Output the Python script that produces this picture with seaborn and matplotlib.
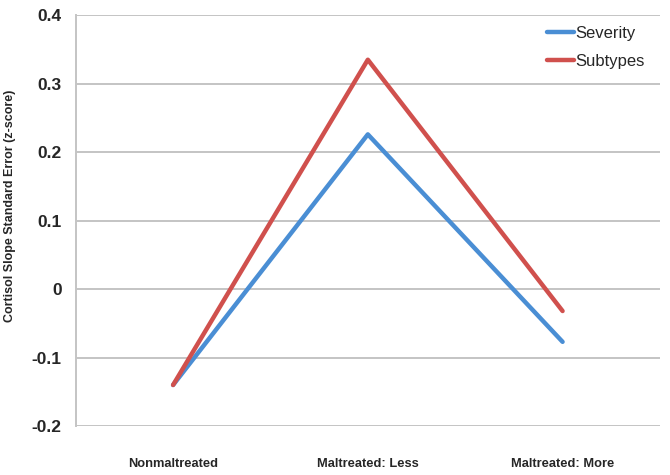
import numpy as np
import pandas as pd
from matplotlib import pyplot as plt
import seaborn as sns

groups = ['Nonmaltreated', 'Maltreated: Less', 'Maltreated: More']
severity = [-0.14, 0.226, -0.077]
subtypes = [-0.14, 0.335, -0.032]

df = pd.DataFrame({
    'group': groups * 2,
    'value': severity + subtypes,
    'model': ['Severity'] * 3 + ['Subtypes'] * 3,
})
df['x'] = np.tile(np.arange(len(groups)), 2)

sns.set_style('white')
plt.rcParams['font.family'] = ['Liberation Sans', 'DejaVu Sans']

fig = plt.figure(figsize=(6.7, 4.75), dpi=100)
ax = fig.add_axes([0.113, 0.103, 0.872, 0.865])

sns.lineplot(data=df, x='x', y='value', hue='model',
             palette={'Severity': '#4a8ed4', 'Subtypes': '#d0504d'},
             linewidth=3.2, ax=ax, legend=True)

ax.set_xlim(-0.5, 2.5)
ax.set_ylim(-0.2, 0.4)
ax.set_yticks(np.arange(-0.2, 0.41, 0.1))
ax.set_yticklabels(['-0.2', '-0.1', '0', '0.1', '0.2', '0.3', '0.4'],
                   fontsize=12.5, fontweight='bold')
ax.yaxis.grid(True, color='#c4c4c4', linewidth=1.4)
ax.set_axisbelow(True)

ax.set_xticks(range(len(groups)))
ax.set_xticklabels(groups, fontsize=9.3, fontweight='bold')
ax.tick_params(axis='x', length=0, pad=23)
ax.set_xticks([-0.5, 0.5, 1.5, 2.5], minor=True)
ax.tick_params(axis='x', which='minor', length=4, color='#c4c4c4', width=1.2)
ax.tick_params(axis='y', length=4, color='#c4c4c4', width=1.2, pad=6)

for s in ['top', 'right', 'bottom']:
    ax.spines[s].set_visible(False)
ax.spines['left'].set_color('#c4c4c4')
ax.spines['left'].set_linewidth(1.4)

ax.set_xlabel('')
ax.set_ylabel('Cortisol Slope Standard Error (z-score)', fontsize=9,
              fontweight='bold')
ax.yaxis.set_label_coords(-0.103, 0.535)

leg = ax.legend(loc='upper right', frameon=False, fontsize=12,
                handlelength=1.6, handletextpad=0.1,
                bbox_to_anchor=(1.0, 1.01), labelspacing=0.75)
for line in leg.get_lines():
    line.set_linewidth(3.2)

fig.savefig('out.png', dpi=100)
